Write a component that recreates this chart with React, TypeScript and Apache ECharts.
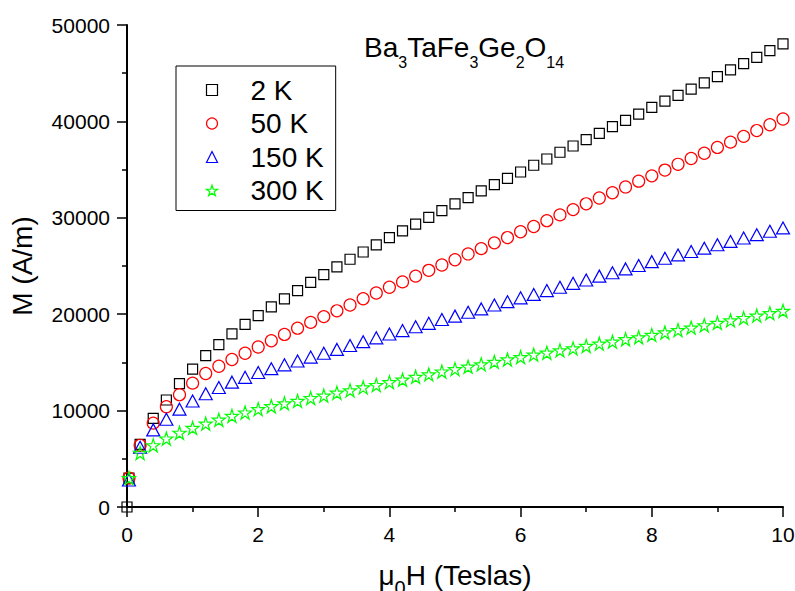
import React, { useEffect, useRef } from "react";
import * as echarts from "echarts";

// Applied field μ0H (T)
const FIELD = [
  0.03, 0.2, 0.4, 0.6, 0.8, 1.0, 1.2, 1.4, 1.6, 1.8, 2.0,
  2.2, 2.4, 2.6, 2.8, 3.0, 3.2, 3.4, 3.6, 3.8, 4.0,
  4.2, 4.4, 4.6, 4.8, 5.0, 5.2, 5.4, 5.6, 5.8, 6.0,
  6.2, 6.4, 6.6, 6.8, 7.0, 7.2, 7.4, 7.6, 7.8, 8.0,
  8.2, 8.4, 8.6, 8.8, 9.0, 9.2, 9.4, 9.6, 9.8, 10.0,
];

// Magnetization M (A/m)
const M_2K = [
  3000, 6500, 9200, 11100, 12800, 14300, 15700, 16850, 17950, 18950, 19850,
  20750, 21600, 22450, 23300, 24100, 24900, 25700, 26450, 27200, 27950,
  28650, 29350, 30050, 30750, 31450, 32100, 32800, 33450, 34100, 34750,
  35450, 36100, 36800, 37450, 38100, 38750, 39450, 40100, 40750, 41450,
  42100, 42700, 43350, 44000, 44650, 45350, 46000, 46650, 47350, 48050,
];
const ORIGIN_2K = [0, 0];

const M_50K = [
  3000, 6400, 8700, 10400, 11650, 12850, 13850, 14600, 15300, 15950, 16600,
  17250, 17900, 18550, 19150, 19750, 20350, 20950, 21600, 22200, 22800,
  23350, 23950, 24550, 25100, 25650, 26250, 26800, 27400, 27950, 28550,
  29100, 29700, 30300, 30850, 31450, 32050, 32600, 33200, 33800, 34350,
  34950, 35550, 36150, 36700, 37300, 37850, 38450, 39050, 39650, 40250,
];

const M_150K = [
  2800, 6200, 8000, 9100, 10150, 11000, 11750, 12400, 12950, 13450, 13950,
  14350, 14750, 15150, 15550, 15950, 16350, 16750, 17150, 17550, 17950,
  18300, 18700, 19050, 19450, 19800, 20200, 20550, 20950, 21300, 21700,
  22050, 22450, 22800, 23200, 23550, 23950, 24300, 24700, 25050, 25450,
  25800, 26150, 26500, 26850, 27200, 27550, 27900, 28250, 28600, 28950,
];

const M_300K = [
  3000, 5600, 6400, 7100, 7700, 8200, 8650, 9050, 9450, 9800, 10150,
  10450, 10750, 11000, 11300, 11550, 11850, 12100, 12400, 12650, 12950,
  13200, 13500, 13750, 14050, 14300, 14550, 14800, 15050, 15300, 15550,
  15800, 16000, 16250, 16450, 16700, 16950, 17150, 17400, 17600, 17850,
  18100, 18350, 18600, 18850, 19100, 19350, 19600, 19850, 20100, 20350,
];

const SERIES_NAMES = ["2 K", "50 K", "150 K", "300 K"];
const SERIES_COLORS = ["#000000", "#ff0000", "#0000ff", "#00ff00"];

const FONT = "'Liberation Sans', Arial, sans-serif";
const STAR =
  "path://M50,0 L61.2,34.5 L97.6,34.5 L68.2,55.9 L79.4,90.5 L50,69.1 L20.6,90.5 L31.8,55.9 L2.4,34.5 L38.8,34.5 Z";
const SYMBOLS = ["rect", "circle", "triangle", STAR];

export default function App() {
  const ref = useRef<HTMLDivElement>(null);

  useEffect(() => {
    if (!ref.current) return;
    const chart = echarts.init(ref.current, null, { renderer: "svg" });

    const pairs = (vals: number[]) => FIELD.map((h, i) => [h, vals[i]]);

    const mk = (i: number, data: number[][], size: number | number[]) => ({
      type: "scatter",
      name: SERIES_NAMES[i],
      data,
      symbol: SYMBOLS[i],
      symbolSize: size,
      clip: false,
      itemStyle: { color: "none", borderColor: SERIES_COLORS[i], borderWidth: 1.2, opacity: 1 },
      emphasis: { disabled: true },
    });

    chart.setOption({
      animation: false,
      backgroundColor: "#ffffff",
      grid: {
        left: 127,
        right: 12,
        top: 25,
        bottom: 84,
        containLabel: false,
        outerBoundsMode: "none",
      },
      title: {
        left: 364,
        top: 33,
        padding: 0,
        text: "{n|Ba}{s|3}{n|TaFe}{s|3}{n|Ge}{s|2}{n|O}{s|14}",
        textStyle: {
          rich: {
            n: { fontFamily: FONT, fontSize: 28, lineHeight: 28, fontWeight: "normal", color: "#000" },
            s: {
              fontFamily: FONT,
              fontSize: 16,
              lineHeight: 16,
              fontWeight: "normal",
              color: "#000",
              padding: [31, 0, 0, 0],
            },
          },
        },
      },
      legend: {
        left: 176,
        top: 66,
        orient: "vertical",
        padding: [10, 12, 6, 28],
        itemGap: 5.5,
        itemWidth: 11,
        itemHeight: 11,
        borderColor: "#000",
        borderWidth: 1,
        selectedMode: false,
        data: SERIES_NAMES.map((name, i) => ({
          name,
          icon: SYMBOLS[i],
          itemStyle: { color: "none", borderColor: SERIES_COLORS[i], borderWidth: 1.2 },
        })),
        textStyle: {
          fontFamily: FONT,
          fontSize: 28,
          color: "#000",
          padding: [0, 0, 0, 28],
        },
      },
      xAxis: {
        type: "value",
        min: 0,
        max: 10,
        interval: 2,
        name: "{n|μ}{s|0}{n|H (Teslas)}",
        nameLocation: "middle",
        nameGap: 54,
        nameTextStyle: {
          rich: {
            n: { fontFamily: FONT, fontSize: 28, lineHeight: 28, color: "#000" },
            s: { fontFamily: FONT, fontSize: 20, lineHeight: 20, color: "#000", padding: [26, 0, 0, 0] },
          },
        },
        axisLine: { onZero: false, lineStyle: { color: "#000", width: 2 } },
        axisTick: { inside: false, length: 10, lineStyle: { color: "#000", width: 1.5 } },
        minorTick: { show: true, splitNumber: 2, length: 5, lineStyle: { color: "#000", width: 1.5 } },
        axisLabel: { fontFamily: FONT, fontSize: 21, color: "#000", margin: 17 },
        splitLine: { show: false },
      },
      yAxis: {
        type: "value",
        min: 0,
        max: 50000,
        interval: 10000,
        name: "M (A/m)",
        nameLocation: "middle",
        nameGap: 91,
        nameTextStyle: { fontFamily: FONT, fontSize: 28, color: "#000" },
        axisLine: { onZero: false, lineStyle: { color: "#000", width: 2 } },
        axisTick: { inside: false, length: 10, lineStyle: { color: "#000", width: 1.5 } },
        minorTick: { show: true, splitNumber: 2, length: 5, lineStyle: { color: "#000", width: 1.5 } },
        axisLabel: {
          fontFamily: FONT,
          fontSize: 21,
          color: "#000",
          margin: 17,
          formatter: (v: number) => String(v),
        },
        splitLine: { show: false },
      },
      series: [
        mk(0, [ORIGIN_2K, ...pairs(M_2K)], 10),
        mk(1, pairs(M_50K), 12),
        mk(2, pairs(M_150K), [13, 12]),
        mk(3, pairs(M_300K), 13),
      ],
    });

    return () => chart.dispose();
  }, []);

  return (
    <div
      ref={ref}
      style={{ position: "fixed", left: 0, top: 0, width: 795, height: 591, background: "#fff" }}
    />
  );
}
